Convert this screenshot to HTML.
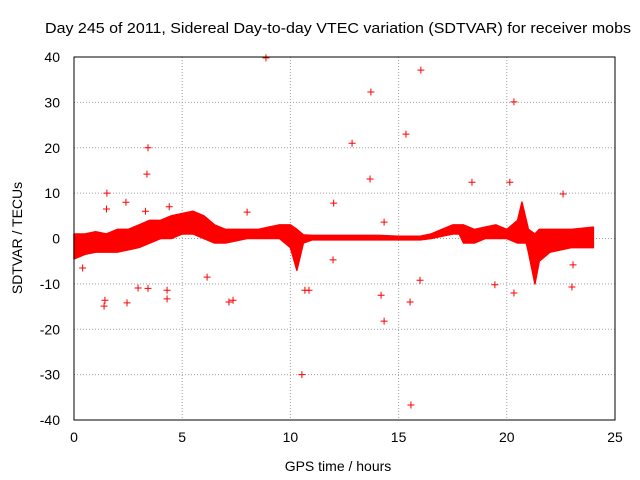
<!DOCTYPE html>
<html><head><meta charset="utf-8"><style>
body{margin:0;background:#fff}
svg{display:block;font-family:"Liberation Sans",sans-serif}
</style></head><body>
<svg id="c" width="640" height="480">
<rect width="640" height="480" fill="#fff"/>
<text x="338" y="33" font-size="15" text-anchor="middle" textLength="586" lengthAdjust="spacingAndGlyphs">Day 245 of 2011, Sidereal Day-to-day VTEC variation (SDTVAR) for receiver mobs</text>
<text x="338" y="471" font-size="14" text-anchor="middle">GPS time / hours</text>
<text transform="translate(22,238) rotate(-90)" font-size="14" text-anchor="middle">SDTVAR / TECUs</text>
<g id="grid"></g><g id="ticks"></g><g id="band"></g><g id="pts"></g>
<rect x="74" y="57" width="541" height="363" fill="none" stroke="#000"/>
</svg>
<script>
const xTicks=[0,5,10,15,20,25];
const yTicks=[-40,-30,-20,-10,0,10,20,30,40];
const bandHours=[0,0.5,1,1.5,2,2.5,3,3.5,4,4.5,5,5.5,6,6.5,7,7.5,8,8.5,9,9.5,10,10.3,10.6,11,12,13,14,15,16,16.5,17,17.5,17.8,18,18.5,19,19.5,20,20.5,20.7,20.9,21,21.3,21.5,22,23,24];
const bandLow=[-4.5,-3.5,-3,-3,-3,-2.5,-2,-1,0,0,1,1,0,-1,-1,-0.5,0,0,0,0,-2,-7,-1,-0.3,-0.3,-0.3,-0.3,-0.3,-0.3,0,0.5,1,1,-1,-1,0,0,0,-1,-1,-1,-3,-10,-5,-3,-2,-2];
const bandHigh=[1,1,1.5,1,2,2,3,4,4,5,5.5,6,5,3,2,2,2,2,2.5,3,3,2,0.8,0.7,0.7,0.7,0.7,0.5,0.5,1,2,3,3,3,2,2.5,3,2,4,8,4,2,1,2,2,2,2.5];
const outX=[8.87,13.72,16.03,20.33,12.85,15.34,3.42,3.37,13.68,18.39,20.14,1.52,22.6,12.0,8.0,14.33,1.43,1.39,2.45,4.3,7.16,7.35,6.15,10.67,10.86,14.19,14.33,15.99,15.53,19.45,20.33,23.01,10.53,15.57,2.96,3.42,4.3,11.97,23.06,1.5,2.4,3.3,4.4,0.4];
const outY=[39.8,32.3,37.1,30.1,21,23,20,14.2,13.1,12.4,12.4,10,9.8,7.8,5.8,3.6,-13.6,-14.9,-14.2,-13.3,-14,-13.6,-8.5,-11.4,-11.4,-12.5,-18.2,-9.2,-14,-10.2,-12,-10.7,-30,-36.7,-10.9,-11,-11.4,-4.7,-5.8,6.5,8,6,7,-6.5];
const X=h=>74+h*541/25, Y=v=>238.5-v*363/80;
const NS="http://www.w3.org/2000/svg";
function mk(t,a,p){const e=document.createElementNS(NS,t);for(const k in a)e.setAttribute(k,a[k]);document.getElementById(p).appendChild(e);return e;}
xTicks.forEach(t=>{
 if(t>0&&t<25){const g=mk('line',{x1:X(t),x2:X(t),y1:57,y2:420,stroke:'#a0a0a0','stroke-dasharray':'1,2'},'grid');
 
 }
 const l=mk('text',{x:X(t),y:442,'font-size':14,'text-anchor':'middle'},'ticks');l.textContent=t;
 
 
});
yTicks.forEach(t=>{
 if(t>-40&&t<40){const g=mk('line',{x1:74,x2:615,y1:Y(t),y2:Y(t),stroke:'#a0a0a0','stroke-dasharray':'1,2'},'grid');
 
 }
 const l=mk('text',{x:60,y:Y(t)+5,'font-size':14,'text-anchor':'end'},'ticks');l.textContent=t;
 
 
});
let pts=bandHours.map((h,i)=>X(h)+','+Y(bandHigh[i]));
for(let i=bandHours.length-1;i>=0;i--)pts.push(X(bandHours[i])+','+Y(bandLow[i]));
const b=mk('polygon',{points:pts.join(' '),fill:'#f00',stroke:'#f00','stroke-width':1.5,'stroke-linejoin':'round'},'band');


outX.forEach((h,i)=>{
 const x=X(h),y=Y(outY[i]);
 const p=mk('path',{d:`M${x-3.5},${y}h7M${x},${y-3.5}v7`,stroke:'#f00','stroke-width':1},'pts');
 
 
});
</script>
</body></html>
